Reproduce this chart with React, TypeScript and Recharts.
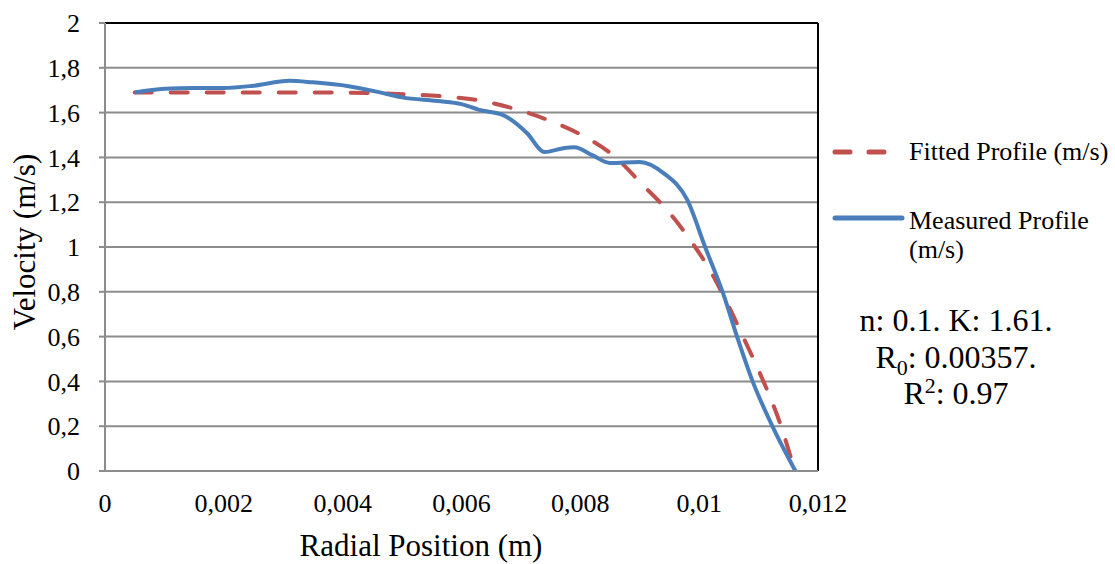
import { LineChart, Line, XAxis, YAxis, CartesianGrid, ReferenceLine } from 'recharts';

const xTicks = [0, 0.002, 0.004, 0.006, 0.008, 0.01, 0.012];
const yTicks = [0, 0.2, 0.4, 0.6, 0.8, 1, 1.2, 1.4, 1.6, 1.8, 2];

const measuredR = [
  0.0005, 0.001, 0.0015, 0.002, 0.0025, 0.0031, 0.0035, 0.0041, 0.0047, 0.005, 0.0056, 0.006,
  0.0063, 0.0067, 0.0071, 0.0074, 0.0077, 0.0079, 0.0082, 0.0085, 0.009, 0.0094, 0.0098, 0.0101,
  0.0104, 0.01064, 0.0109, 0.01124, 0.01162,
];
const measuredV = [
  1.69, 1.707, 1.71, 1.71, 1.72, 1.742, 1.735, 1.718, 1.686, 1.668, 1.652, 1.638,
  1.612, 1.589, 1.509, 1.424, 1.44, 1.445, 1.41, 1.375, 1.38, 1.33, 1.21, 1.0,
  0.795, 0.598, 0.4, 0.196, 0,
];

const fittedR = [
  0.0005, 0.001, 0.002, 0.003, 0.0038, 0.0046, 0.0052, 0.0058, 0.00626, 0.00698, 0.00754,
  0.00811, 0.00855, 0.00905, 0.00946, 0.00985, 0.01018, 0.01047, 0.01074, 0.01102, 0.01136, 0.01161,
];
const fittedV = [
  1.69, 1.69, 1.69, 1.69, 1.69, 1.686, 1.68, 1.67, 1.656, 1.61, 1.558,
  1.487, 1.41, 1.277, 1.165, 1.031, 0.897, 0.75, 0.598, 0.4375, 0.214, 0,
];

const measured = measuredR.map((r, i) => ({ r, v: measuredV[i] }));
const fitted = fittedR.map((r, i) => ({ r, v: fittedV[i] }));

const FONT = "'Times New Roman', 'Liberation Serif', 'DejaVu Serif', serif";
const BLUE = '#4a7ebb';
const RED = '#c0504d';
const GRID = '#8c8c8c';

const comma = (v: number) => String(v).replace('.', ',');

export default function App() {
  return (
    <div style={{ position: 'absolute', left: 0, top: 0, width: 1115, height: 564, background: '#fff', fontFamily: FONT }}>
      <LineChart
        width={1115}
        height={564}
        margin={{ top: 23, right: 297, bottom: 0, left: 0 }}
      >
        <CartesianGrid horizontal vertical={false} stroke={GRID} strokeWidth={2} />
        <XAxis
          type="number"
          dataKey="r"
          domain={[0, 0.012]}
          ticks={xTicks}
          tickFormatter={comma}
          height={93}
          stroke={GRID}
          strokeWidth={2}
          tickLine={false}
          tickSize={0}
          tickMargin={23}
          tick={{ fill: '#000', fontSize: 26, fontFamily: FONT }}
          allowDataOverflow
        />
        <YAxis
          type="number"
          dataKey="v"
          domain={[0, 2]}
          ticks={yTicks}
          tickFormatter={comma}
          width={105}
          stroke={GRID}
          strokeWidth={2}
          tickSize={6}
          tickMargin={19}
          tick={{ fill: '#000', fontSize: 26, fontFamily: FONT }}
        />
        <ReferenceLine y={2} stroke="#000" strokeWidth={2} />
        <ReferenceLine x={0.012} stroke="#000" strokeWidth={2} />
        <Line
          data={fitted}
          dataKey="v"
          type="monotone"
          stroke={RED}
          strokeWidth={4}
          strokeDasharray="17 19"
          strokeLinecap="round"
          dot={false}
          isAnimationActive={false}
        />
        <Line
          data={measured}
          dataKey="v"
          type="monotone"
          stroke={BLUE}
          strokeWidth={4}
          dot={false}
          isAnimationActive={false}
        />
      </LineChart>
      <svg
        width={1115}
        height={564}
        style={{ position: 'absolute', left: 0, top: 0, pointerEvents: 'none' }}
        fontFamily={FONT}
      >
        <text x={421} y={556} fontSize={31} textAnchor="middle" fill="#000">Radial Position (m)</text>
        <text x={35} y={242} fontSize={31} textAnchor="middle" fill="#000" transform="rotate(-90 35 242)">
          Velocity (m/s)
        </text>

        <line x1={835} y1={152} x2={900} y2={152} stroke={RED} strokeWidth={5} strokeDasharray="15 19" strokeLinecap="round" />
        <text x={909} y={160} fontSize={26} fill="#000">Fitted Profile (m/s)</text>
        <line x1={835} y1={218} x2={902} y2={218} stroke={BLUE} strokeWidth={5} strokeLinecap="round" />
        <text x={909} y={229} fontSize={26} fill="#000">Measured Profile</text>
        <text x={909} y={258} fontSize={26} fill="#000">(m/s)</text>

        <text x={956} y={331} fontSize={32} textAnchor="middle" fill="#000">n: 0.1. K: 1.61.</text>
        <text x={956} y={368} fontSize={32} textAnchor="middle" fill="#000">
          R<tspan fontSize={22} dy={7}>0</tspan><tspan dy={-7}>: 0.00357.</tspan>
        </text>
        <text x={956} y={404} fontSize={32} textAnchor="middle" fill="#000">
          R<tspan fontSize={22} dy={-11}>2</tspan><tspan dy={11}>: 0.97</tspan>
        </text>
      </svg>
    </div>
  );
}
